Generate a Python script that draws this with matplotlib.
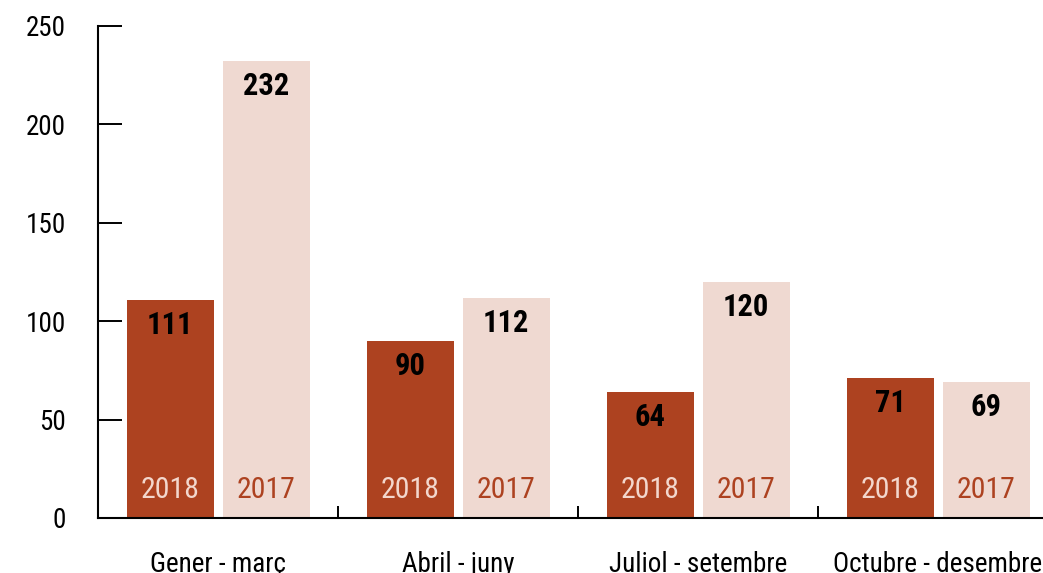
import matplotlib
matplotlib.use("Agg")
import matplotlib.pyplot as plt
from matplotlib import font_manager as fm

names = {f.name for f in fm.fontManager.ttflist}
fam = "DejaVu Sans"
for cand in ["Roboto Condensed", "Archivo Narrow", "PT Sans Narrow", "Encode Sans Condensed",
             "Barlow Semi Condensed", "Open Sans Condensed"]:
    if cand in names:
        fam = cand
        break
plt.rcParams['font.family'] = [fam, 'DejaVu Sans']

categories = ["Gener - març", "Abril - juny", "Juliol - setembre", "Octubre - desembre"]
series_2018 = [111, 90, 64, 71]
series_2017 = [232, 112, 120, 69]
year_labels = ["2018", "2017"]
yticks = [0, 50, 100, 150, 200, 250]

dark = "#AD4220"
light = "#EFD9D1"

W, H = 1043, 573
fig = plt.figure(figsize=(W / 100, H / 100), dpi=100)
left, right, top, bottom = 98, 1058, 26, 518
ax = fig.add_axes([left / W, (H - bottom) / H, (right - left) / W, (bottom - top) / H])

x = list(range(len(categories)))
off = 0.2
bw = 0.3625
ax.bar([i - off for i in x], series_2018, width=bw, color=dark, zorder=2)
ax.bar([i + off for i in x], series_2017, width=bw, color=light, zorder=2)

for i in x:
    ax.text(i - off, series_2018[i] - 12.7, str(series_2018[i]), ha='center', va='center',
            fontsize=22, fontweight='bold', color='black')
    ax.text(i + off, series_2017[i] - 12.7, str(series_2017[i]), ha='center', va='center',
            fontsize=22, fontweight='bold', color='black')
    ax.text(i - off, 14, year_labels[0], ha='center', va='center', fontsize=21.5,
            fontweight='normal', color="#F3D7CD")
    ax.text(i + off, 14, year_labels[1], ha='center', va='center', fontsize=21.5,
            fontweight='normal', color=dark)

ax.set_xlim(-0.5, 3.5)
ax.set_ylim(0, 250)
ax.set_yticks(yticks)
ax.tick_params(axis='y', direction='in', length=17, width=1.4, labelsize=19.5, pad=23)
ax.set_xticks(x)
ax.set_xticklabels(categories)
ax.tick_params(axis='x', which='major', length=0, labelsize=19.5, pad=23.5)
ax.set_xticks([0.5, 1.5, 2.5, 3.5], minor=True)
ax.tick_params(axis='x', which='minor', direction='in', length=9, width=1.4)

for s in ['top', 'right']:
    ax.spines[s].set_visible(False)
for s in ['left', 'bottom']:
    ax.spines[s].set_linewidth(1.5)

fig.savefig("out.png", dpi=100)
